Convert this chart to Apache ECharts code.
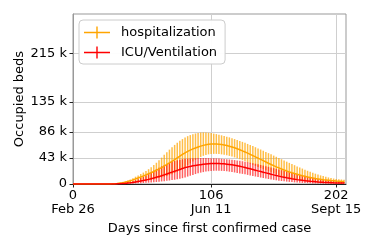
<!DOCTYPE html>
<html><head><meta charset="utf-8">
<script src="https://cdn.jsdelivr.net/npm/echarts@6/dist/echarts.min.js"></script>
<style>html,body{margin:0;padding:0;background:#fff}#c{width:374px;height:249px}</style>
</head><body><div id="c"></div><script>
const days = [0,2,4,6,8,10,12,14,16,18,20,22,24,26,28,
30,32,34,36,38,40,42,44,46,48,50,52,54,56,58,60,62,64,66,68,70,72,74,76,78,80,82,84,86,88,90,92,94,96,98,100,102,104,106,108,110,112,114,116,118,120,122,124,126,128,130,132,134,136,138,140,142,144,146,148,150,152,154,156,158,160,162,164,166,168,170,172,174,176,178,180,182,184,186,188,190,192,194,196,198,200,202,204,206,208];
// values in thousands of beds
const hospMean = [0,0,0,0,0,0,0,0,0,0,0.05,0.05,0.1,0.1,0.2,
0.3,0.6,1.0,1.5,2.2,3.0,4.0,5.2,6.8,8.4,10.0,11.6,13.2,15.0,16.8,18.6,20.6,22.6,24.8,27.0,29.6,32.2,34.8,37.4,40.0,43.0,45.8,48.6,51.4,53.8,55.8,57.8,59.4,61.0,62.4,63.6,64.6,65.4,65.9,66.0,65.9,65.6,65.0,64.3,63.4,62.3,61.0,59.6,58.0,56.4,54.6,52.8,50.8,48.8,46.8,44.7,42.6,40.5,38.4,36.3,34.2,32.2,30.2,28.3,26.5,24.7,23.0,21.4,19.9,18.5,17.2,16.0,14.8,13.7,12.7,11.7,10.8,9.9,9.1,8.4,7.7,7.1,6.6,6.1,5.6,5.2,4.8,4.5,4.2,4.0];
const hospUpper = [0,0,0,0,0,0,0,0,0,0,0.1,0.1,0.2,0.2,0.4,
0.6,1.1,1.8,2.6,3.4,4.4,5.8,7.4,9.6,12.0,14.2,16.4,18.8,21.4,24.4,27.6,31.2,35.0,39.0,43.4,48.0,52.4,56.6,60.6,64.4,68.0,71.2,74.0,76.6,78.8,80.6,82.0,83.2,84.2,84.8,85.0,84.8,84.4,83.8,83.0,82.2,81.2,80.2,79.2,78.0,76.8,75.4,74.0,72.6,71.0,69.4,67.8,66.0,64.2,62.4,60.6,58.6,56.8,54.8,52.8,50.8,48.8,46.8,44.8,42.8,40.8,38.8,36.8,34.8,32.8,31.0,29.0,27.2,25.4,23.6,21.8,20.2,18.6,17.0,15.6,14.2,13.0,11.8,10.8,9.8,9.0,8.4,7.8,7.4,7.0];
const hospLower = [0,0,0,0,0,0,0,0,0,0,0,0,0,0,0.05,
0.1,0.2,0.4,0.6,0.9,1.2,1.6,2.0,2.5,3.0,3.6,4.2,4.9,5.6,6.4,7.2,8.0,8.9,9.8,10.8,11.9,13.2,14.6,16.2,18.0,20.2,22.6,25.2,28.0,31.0,34.0,37.0,39.8,42.4,44.6,46.4,47.8,48.8,49.4,49.6,49.6,49.3,48.8,48.2,47.3,46.3,45.1,43.8,42.4,40.8,39.1,37.4,35.6,33.7,31.8,29.9,28.0,26.2,24.4,22.6,20.9,19.3,17.8,16.3,14.9,13.6,12.4,11.3,10.3,9.3,8.4,7.6,6.8,6.1,5.5,4.9,4.4,3.9,3.5,3.1,2.8,2.5,2.2,2.0,1.8,1.6,1.4,1.3,1.2,1.1];
const icuMean = [0,0,0,0,0,0,0,0,0,0,0,0,0.05,0.05,0.1,
0.1,0.2,0.4,0.6,0.8,1.0,1.5,2.0,2.6,3.3,4.0,4.8,5.6,6.6,7.6,8.7,9.8,11.0,12.2,13.5,15.0,16.5,18.0,19.5,21.0,22.5,24.0,25.5,27.0,28.0,29.0,29.9,30.6,31.3,31.9,32.4,32.9,33.3,33.6,33.8,33.8,33.7,33.5,33.2,32.7,32.2,31.6,30.9,30.1,29.2,28.2,27.2,26.1,25.0,23.9,22.8,21.6,20.5,19.4,18.3,17.2,16.1,15.0,14.0,13.0,12.0,11.1,10.2,9.4,8.6,7.9,7.2,6.6,6.0,5.5,5.0,4.5,4.1,3.7,3.3,3.0,2.7,2.5,2.3,2.1,1.9,1.8,1.7,1.6,1.5];
const icuUpper = [0,0,0,0,0,0,0,0,0,0,0,0.05,0.1,0.1,0.2,
0.3,0.5,0.8,1.1,1.5,2.0,2.8,3.8,5.0,6.4,8.0,9.8,11.8,14.0,16.4,19.0,21.8,24.4,26.8,29.0,31.0,33.0,34.8,36.4,37.8,39.0,40.0,40.8,41.4,41.8,42.2,42.4,42.6,42.7,42.8,42.8,42.8,42.7,42.6,42.4,42.2,41.9,41.6,41.2,40.8,40.4,39.9,39.4,38.8,38.2,37.5,36.8,36.0,35.2,34.3,33.4,32.4,31.4,30.4,29.4,28.3,27.2,26.1,25.0,23.9,22.8,21.7,20.6,19.5,18.4,17.3,16.2,15.1,14.0,13.0,12.0,11.0,10.1,9.2,8.4,7.6,6.9,6.3,5.7,5.2,4.8,4.4,4.1,3.8,3.5];
const icuLower = [0,0,0,0,0,0,0,0,0,0,0,0,0,0,0,
0,0,0.1,0.1,0.2,0.3,0.4,0.5,0.7,0.9,1.1,1.3,1.6,1.9,2.2,2.5,2.9,3.3,3.7,4.2,4.7,5.2,5.8,6.4,7.0,7.8,8.6,9.6,10.8,12.2,13.6,15.0,16.4,17.6,18.7,19.6,20.4,21.0,21.5,21.8,21.9,21.8,21.6,21.3,20.8,20.3,19.7,19.0,18.3,17.5,16.7,15.9,15.0,14.1,13.2,12.3,11.4,10.6,9.8,9.0,8.2,7.5,6.8,6.1,5.5,4.9,4.4,3.9,3.5,3.1,2.7,2.4,2.1,1.8,1.6,1.4,1.2,1.0,0.9,0.8,0.7,0.6,0.5,0.5,0.4,0.4,0.3,0.3,0.3,0.3];

const yTicks = [0, 43, 86, 135, 215];
const yTickLabels = ['0', '43 k', '86 k', '135 k', '215 k'];
const xTicks = [0, 106, 202];
const xTickLabels = ['0', '106', '202'];
const xDateLabels = ['Feb 26', 'Jun 11', 'Sept 15'];

const FONT = 'DejaVu Sans';
const zip = (a) => days.map((d, i) => [d, a[i]]);
const zipBars = (lo, hi) => days.map((d, i) => [d, lo[i], hi[i]]);
function barRender(color) {
  return function (params, api) {
    const x = api.value(0);
    const p1 = api.coord([x, api.value(1)]);
    const p2 = api.coord([x, api.value(2)]);
    return { type: 'line', shape: { x1: p1[0], y1: p1[1], x2: p2[0], y2: p2[1] },
      style: { stroke: color, lineWidth: 1.5 } };
  };
}
const fmt = (ticks, labels) => (v) => { const i = ticks.indexOf(v); return i >= 0 ? labels[i] : ''; };

const chart = echarts.init(document.getElementById('c'), null, { renderer: 'canvas' });
chart.setOption({
  animation: false,
  backgroundColor: '#fff',
  grid: { left: 73, right: 28, top: 14, bottom: 65, show: true, borderColor: '#999', borderWidth: 1, backgroundColor: 'transparent' },
  legend: {
    orient: 'vertical', left: 79, top: 20, z: 20,
    data: ['hospitalization', 'ICU/Ventilation'],
    icon: 'path://M0,5.4h26v1.4h-26z M12.3,0h1.4v12.2h-1.4z M31.9,6h0.05v0.05h-0.05z',
    itemWidth: 32, itemHeight: 12.2, itemGap: 7,
    padding: [6, 8, 5, 5],
    backgroundColor: 'rgba(255,255,255,0.95)', borderColor: '#ccc', borderWidth: 1, borderRadius: 4,
    textStyle: { fontFamily: FONT, fontSize: 13, color: '#000' }
  },
  xAxis: [{
    type: 'value', min: 0, max: 209.5, position: 'bottom',
    name: 'Days since first confirmed case', nameLocation: 'middle', nameGap: 38,
    nameTextStyle: { fontFamily: FONT, fontSize: 13, color: '#000' },
    axisLine: { show: true, onZero: false, lineStyle: { color: '#222', width: 1 } },
    axisTick: { show: true, customValues: xTicks, length: 3.5, lineStyle: { color: '#222' } },
    axisLabel: { customValues: xTicks, formatter: fmt(xTicks, xTickLabels), margin: 5,
      fontFamily: FONT, fontSize: 13, color: '#000' },
    splitLine: { show: false }
  }, {
    type: 'value', min: 0, max: 209.5, position: 'bottom', offset: 0,
    axisLine: { show: false }, axisTick: { show: false },
    axisLabel: { customValues: xTicks, formatter: fmt(xTicks, xDateLabels), margin: 19,
      fontFamily: FONT, fontSize: 13, color: '#000' },
    splitLine: { show: false }
  }],
  yAxis: {
    type: 'value', min: 0, max: 280,
    name: 'Occupied beds', nameLocation: 'middle', nameGap: 47, nameMoveOverlap: false,
    nameTextStyle: { fontFamily: FONT, fontSize: 13, color: '#000' },
    axisLine: { show: true, lineStyle: { color: '#999', width: 1 } },
    axisTick: { show: true, customValues: yTicks, length: 3.5, lineStyle: { color: '#222' } },
    axisLabel: { customValues: yTicks, formatter: fmt(yTicks, yTickLabels), margin: 6, fontFamily: FONT, fontSize: 13, color: '#000' },
    splitLine: { show: false }
  },
  series: [
    { type: 'line', name: 'grid', data: [], z: 0, silent: true,
      markLine: { silent: true, symbol: 'none', animation: false, label: { show: false }, z: 0,
        lineStyle: { color: '#cfcfcf', type: 'solid', width: 1 },
        data: yTicks.slice(1).map(v => ({ yAxis: v })).concat(xTicks.slice(1).map(v => ({ xAxis: v }))) } },
    { type: 'custom', name: 'hospBars', z: 2, renderItem: barRender('rgba(255,165,0,0.72)'), data: zipBars(hospLower, hospUpper), silent: true },
    { type: 'custom', name: 'icuBars', z: 2, renderItem: barRender('rgba(255,0,0,0.62)'), data: zipBars(icuLower, icuUpper), silent: true },
    { type: 'line', name: 'hospitalization', z: 3, data: zip(hospMean), showSymbol: false, symbol: 'none',
      color: '#FFA500', itemStyle: { color: '#FFA500' }, lineStyle: { color: '#FFA500', width: 1.5 } },
    { type: 'line', name: 'ICU/Ventilation', z: 4, data: zip(icuMean), showSymbol: false, symbol: 'none',
      color: '#FF0000', itemStyle: { color: '#FF0000' }, lineStyle: { color: '#FF0000', width: 1.5 } }
  ]
});
</script></body></html>
